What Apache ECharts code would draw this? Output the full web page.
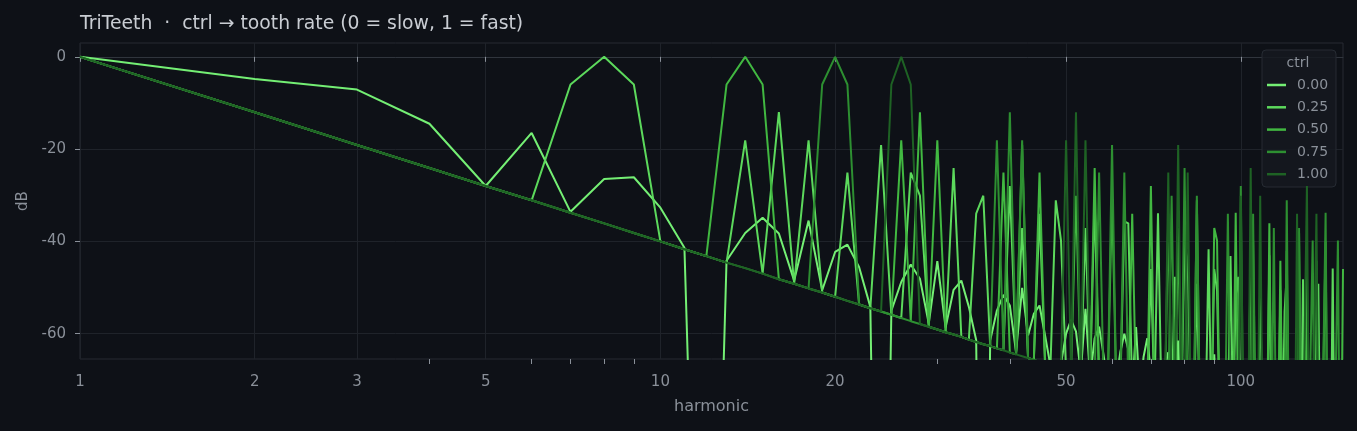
<!DOCTYPE html>
<html><head><meta charset="utf-8">
<script src="https://cdn.jsdelivr.net/npm/echarts@6/dist/echarts.min.js"></script>
<style>html,body{margin:0;padding:0;background:#0e1117;}#c{width:1357px;height:431px;}</style>
</head><body><div id="c"></div>
<script>
// ---- data ----
const seriesNames = ['0.00', '0.25', '0.50', '0.75', '1.00'];
const seriesColors = ['#74ef74', '#5cd95c', '#41b841', '#2d8f31', '#1e6224'];
const xTickLabels = [1, 2, 3, 5, 10, 20, 50, 100];
const xMinorTicks = [4, 6, 7, 8, 9, 30, 40, 60, 70, 80, 90];
const yTickLabels = [0, -20, -40, -60];

// shared -40 dB/decade floor line, harmonics 1..150
const floorDb = [
  0, -12.0, -19.1, -24.1, -28.0, -31.1, -33.8, -36.1, -38.2, -40.0,
  -41.7, -43.2, -44.6, -45.8, -47.0, -48.2, -49.2, -50.2, -51.1, -52.0,
  -52.9, -53.7, -54.5, -55.2, -55.9, -56.6, -57.3, -57.9, -58.5, -59.1,
  -59.7, -60.2, -60.7, -61.3, -61.8, -62.3, -62.7, -63.2, -63.6, -64.1,
  -64.5, -64.9, -65.3, -65.7, -66.1, -66.5, -66.9, -67.2, -67.6, -68.0,
  -68.3, -68.6, -69.0, -69.3, -69.6, -69.9, -70.2, -70.5, -70.8, -71.1,
  -71.4, -71.7, -72.0, -72.2, -72.5, -72.8, -73.0, -73.3, -73.6, -73.8,
  -74.1, -74.3, -74.5, -74.8, -75.0, -75.2, -75.5, -75.7, -75.9, -76.1,
  -76.3, -76.6, -76.8, -77.0, -77.2, -77.4, -77.6, -77.8, -78.0, -78.2,
  -78.4, -78.6, -78.7, -78.9, -79.1, -79.3, -79.5, -79.7, -79.8, -80.0,
  -80.2, -80.3, -80.5, -80.7, -80.8, -81.0, -81.2, -81.3, -81.5, -81.7,
  -81.8, -82.0, -82.1, -82.3, -82.4, -82.6, -82.7, -82.9, -83.0, -83.2,
  -83.3, -83.5, -83.6, -83.7, -83.9, -84.0, -84.2, -84.3, -84.4, -84.6,
  -84.7, -84.8, -85.0, -85.1, -85.2, -85.3, -85.5, -85.6, -85.7, -85.8,
  -86.0, -86.1, -86.2, -86.3, -86.5, -86.6, -86.7, -86.8, -86.9, -87.0
];

// ctrl = 0.00, harmonics 1..150
const ctrl000Db = [
  0, -4.8, -7.1, -14.5, -28.0, -16.5, -33.6, -26.5, -26.1, -32.7,
  -41.4, -200, -44.2, -38.2, -34.9, -38.3, -48.5, -35.5, -50.6, -42.3,
  -40.7, -45.6, -54.2, -200, -55.0, -48.8, -45.0, -48.1, -57.8, -44.3,
  -58.7, -50.5, -48.5, -54.2, -61.4, -200, -61.5, -55.0, -51.6, -53.9,
  -64.0, -50.1, -60.4, -55.7, -53.9, -60.4, -67.0, -200, -66.5, -60.0,
  -57.0, -59.5, -68.5, -54.6, -69.5, -61.0, -58.5, -64.5, -71.5, -200,
  -70.5, -64.0, -60.0, -63.5, -72.5, -58.6, -73.5, -65.0, -61.0, -68.5,
  -75.5, -200, -74.0, -67.5, -64.0, -67.0, -76.0, -61.5, -77.0, -68.5,
  -66.0, -72.0, -79.0, -200, -77.0, -70.5, -67.0, -70.0, -79.0, -64.5,
  -80.0, -71.5, -69.0, -75.0, -82.0, -200, -80.0, -73.0, -70.0, -73.0,
  -82.0, -67.5, -83.0, -74.5, -72.0, -78.0, -85.0, -200, -82.0, -75.5,
  -72.5, -75.5, -84.5, -70.0, -85.5, -77.0, -74.5, -80.5, -87.0, -200,
  -84.0, -77.5, -74.5, -77.5, -86.5, -72.0, -87.5, -79.0, -76.5, -82.0,
  -89.0, -200, -85.5, -79.0, -76.0, -79.0, -88.0, -73.5, -89.0, -80.5,
  -78.0, -84.0, -90.5, -200, -87.0, -80.5, -77.5, -80.5, -89.5, -75.0
];

// teeth above the floor: [harmonic, dB]
const teeth025 = [
  [7, -6.0], [8, 0], [9, -6.0], [14, -18.1], [16, -12.0], [18, -18.1],
  [21, -25.1], [24, -19.1], [27, -25.1], [28, -30.1], [32, -24.1], [36, -30.1],
  [35, -34.0], [40, -28.0], [45, -34.0], [42, -37.1], [48, -31.1], [54, -37.1],
  [49, -39.8], [56, -31.0], [63, -35.7], [64, -36.1], [72, -33.9],
  [70, -46.0], [80, -40.0], [90, -46.0], [77, -47.7], [88, -41.7], [99, -47.7],
  [81, -44.2], [84, -49.2], [96, -43.2], [108, -49.2], [91, -50.6], [104, -44.6],
  [117, -50.6], [98, -51.8], [112, -43.0], [126, -47.8], [105, -53.0], [120, -47.0],
  [135, -53.0], [128, -48.2], [144, -45.9], [119, -55.2], [136, -49.2]
];
const teeth050 = [
  [13, -6.0], [14, 0], [15, -6.0], [26, -18.1], [28, -12.0], [30, -18.1],
  [39, -25.1], [42, -19.1], [45, -25.1], [52, -30.1], [56, -24.1], [60, -30.1],
  [65, -34.0], [70, -28.0], [75, -34.0], [78, -37.1], [84, -31.1], [90, -37.1],
  [91, -39.8], [98, -33.8], [105, -39.8], [104, -42.1], [112, -36.1], [120, -42.1],
  [117, -44.2], [126, -38.2], [135, -44.2], [130, -46.0], [140, -40.0], [150, -46.0]
];
const teeth075 = [
  [19, -6.0], [20, 0], [21, -6.0], [38, -18.1], [40, -12.0], [42, -18.1],
  [57, -25.1], [60, -19.1], [63, -25.1], [76, -30.1], [80, -24.1], [84, -30.1],
  [95, -34.0], [100, -28.0], [105, -34.0], [114, -37.1], [120, -31.1], [126, -37.1],
  [133, -39.8], [140, -33.8], [147, -39.8]
];
const teeth100 = [
  [25, -6.0], [26, 0], [27, -6.0], [50, -18.1], [52, -12.0], [54, -18.1],
  [75, -25.1], [78, -19.1], [81, -25.1], [100, -30.1], [104, -24.1], [108, -30.1],
  [125, -34.0], [130, -28.0], [135, -34.0]
];

// ---- build ----
function pairs(values) { return values.map((v, i) => [i + 1, v]); }
function withTeeth(values, teeth) {
  const d = pairs(values);
  teeth.forEach(([n, v]) => { d[n - 1] = [n, v]; });
  return d;
}
const seriesData = [
  pairs(ctrl000Db),
  withTeeth(floorDb, teeth025),
  withTeeth(floorDb, teeth050),
  withTeeth(floorDb, teeth075),
  withTeeth(floorDb, teeth100)
];

const FONT = 'DejaVu Sans';
const GREY = '#8a9099';
const chart = echarts.init(document.getElementById('c'), null, { renderer: 'canvas' });
chart.setOption({
  backgroundColor: '#0e1117',
  animation: false,
  textStyle: { fontFamily: FONT },
  title: {
    text: 'TriTeeth  ·  ctrl → tooth rate (0 = slow, 1 = fast)',
    left: 80, top: 15, padding: 0,
    textStyle: { color: '#c9cdd3', fontSize: 18.8, fontWeight: 'normal', fontFamily: FONT }
  },
  grid: { left: 80, right: 14, top: 43, bottom: 72, show: true, borderColor: '#262a32', borderWidth: 1, backgroundColor: 'transparent' },
  xAxis: [{
    type: 'log', logBase: 10, min: 1, max: 150,
    name: 'harmonic', nameLocation: 'middle', nameGap: 40,
    nameTextStyle: { color: GREY, fontSize: 16, fontFamily: FONT },
    axisLine: { show: true, lineStyle: { color: '#30353d' } },
    axisTick: { show: true, length: 5, customValues: xTickLabels, lineStyle: { color: GREY } },
    axisLabel: { customValues: xTickLabels, color: GREY, fontSize: 15, margin: 16, fontFamily: FONT, formatter: v => String(Math.round(v)) },
    splitLine: { show: true, lineStyle: { color: '#1f232a', width: 1 } },
    minorTick: { show: false }, minorSplitLine: { show: false }
  }, {
    type: 'log', logBase: 10, min: 1, max: 150, position: 'bottom', gridIndex: 0,
    axisLine: { show: false },
    axisTick: { show: true, length: 5, customValues: xMinorTicks, lineStyle: { color: GREY } },
    axisLabel: { show: false },
    splitLine: { show: false }
  }],
  yAxis: {
    type: 'value', min: -65.5, max: 3, splitNumber: 3,
    name: 'dB', nameLocation: 'middle', nameGap: 47,
    nameTextStyle: { color: GREY, fontSize: 15, fontFamily: FONT },
    axisLine: { show: false },
    axisTick: { show: true, length: 5, customValues: yTickLabels, lineStyle: { color: GREY } },
    axisLabel: { customValues: yTickLabels, color: GREY, fontSize: 15, margin: 14, fontFamily: FONT },
    splitLine: { show: true, lineStyle: { color: '#1f232a', width: 1 } }
  },
  legend: {
    data: seriesNames, orient: 'vertical', left: 1267, top: 77, padding: 0,
    itemWidth: 19, itemHeight: 2.5, icon: 'rect', itemGap: 6.3,
    textStyle: { color: GREY, fontSize: 14, lineHeight: 16, padding: [0, 0, 0, 6], fontFamily: FONT }
  },
  graphic: [
    { type: 'rect', z: 3, shape: { x: 1262, y: 50, width: 74, height: 137, r: 4 },
      style: { fill: 'rgba(21,25,32,0.85)', stroke: '#262b33', lineWidth: 1 } },
    { type: 'text', z: 5, x: 1298, y: 63.5,
      style: { text: 'ctrl', fill: GREY, font: '14px "DejaVu Sans"', textAlign: 'center', textVerticalAlign: 'middle' } }
  ],
  series: seriesNames.map((name, i) => ({
    name, type: 'line', xAxisIndex: 0, data: seriesData[i],
    showSymbol: false, symbol: 'none', clip: true,
    lineStyle: { color: seriesColors[i], width: 2 },
    itemStyle: { color: seriesColors[i] },
    emphasis: { disabled: true }
  }))
});
</script></body></html>
